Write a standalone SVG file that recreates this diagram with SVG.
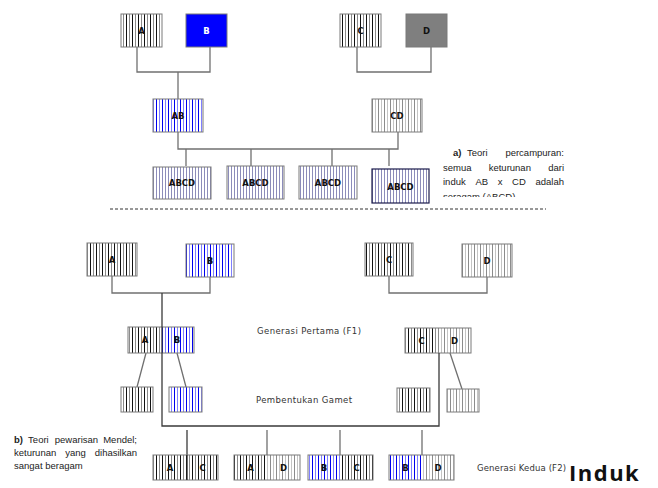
<svg xmlns="http://www.w3.org/2000/svg" width="658" height="488" viewBox="0 0 658 488">
  <defs>
    <!-- vertical hatching fills for the allele boxes -->
    <pattern id="pBlack" width="6" height="10" patternUnits="userSpaceOnUse">
      <rect width="6" height="10" fill="#ffffff"/>
      <rect x="0" width="1" height="10" fill="#111111"/>
      <rect x="3" width="1" height="10" fill="#8a8a8a"/>
    </pattern>
    <pattern id="pBlue" width="6" height="10" patternUnits="userSpaceOnUse">
      <rect width="6" height="10" fill="#ffffff"/>
      <rect x="0" width="1" height="10" fill="#0000ee"/>
      <rect x="3" width="1" height="10" fill="#7f7fff"/>
    </pattern>
    <pattern id="pGray" width="6" height="10" patternUnits="userSpaceOnUse">
      <rect width="6" height="10" fill="#ffffff"/>
      <rect x="0" width="1" height="10" fill="#8c8c8c"/>
      <rect x="3" width="1" height="10" fill="#c4c4c4"/>
    </pattern>
    <pattern id="pLav" width="3" height="10" patternUnits="userSpaceOnUse">
      <rect width="3" height="10" fill="#ffffff"/>
      <rect x="0" width="1" height="10" fill="#8c8cba"/>
    </pattern>
    <clipPath id="clipA"><rect x="430" y="140" width="150" height="57"/></clipPath>
    <clipPath id="clipB"><rect x="0" y="425" width="150" height="46"/></clipPath>
  </defs>
  <style>
    .box { stroke: #7a7a7a; stroke-width: 1; }
    .lbl { font-family: "DejaVu Sans", Verdana, sans-serif; font-weight: bold; font-size: 8.5px; fill: #111; text-anchor: middle; }
    .cap { font-family: "DejaVu Sans", Verdana, sans-serif; font-size: 8.5px; fill: #333; }
    .note { font-family: "Liberation Sans", Arial, sans-serif; font-size: 9.5px; fill: #222; }
    .note .b { font-weight: bold; }
    .conn path { fill: none; stroke: #707070; stroke-width: 1.3; }
    .conn path.dark { stroke: #3a3a3a; }
  </style>

  <!-- connectors -->
  <g id="connectors" class="conn">
    <!-- blending theory -->
    <path d="M137 47 V72 H210 V47"/>
    <path d="M178 72 V99"/>
    <path d="M357 47 V72 H431 V47"/>
    <path d="M178 132 V149 H398 V132"/>
    <path d="M186 149 V166 M251 149 V166 M332 149 V166 M389 149 V166"/>
    <!-- Mendelian inheritance -->
    <path d="M112 276 V293 H210 V277"/>
    <path d="M389 276 V293 H487 V277"/>
    <path d="M146 353 L137 387 M177 353 L186 387 M450 353 L462 389"/>
    <path d="M267 430 V455 M340 430 V455 M422 430 V455"/>
  </g>
  <line x1="110" y1="209" x2="546" y2="209" stroke="#333" stroke-width="1" stroke-dasharray="3,2"/>

  <!-- parents, blending theory -->
  <g id="pA"><rect class="box" x="121" y="14" width="41" height="33" fill="url(#pBlack)"/><text class="lbl" x="141.5" y="34">A</text></g>
  <g id="pB"><rect class="box" x="186" y="14" width="41" height="33" fill="#0000ff"/><text class="lbl" x="206.5" y="34" style="fill:#ffffff">B</text></g>
  <g id="pC"><rect class="box" x="340" y="14" width="41" height="33" fill="url(#pBlack)"/><text class="lbl" x="360.5" y="34">C</text></g>
  <g id="pD"><rect class="box" x="406" y="14" width="41" height="33" fill="#7f7f7f"/><text class="lbl" x="426.5" y="34">D</text></g>
  <g id="AB"><rect class="box" x="153" y="99" width="50" height="33" fill="url(#pBlue)"/><text class="lbl" x="178" y="119">AB</text></g>
  <g id="CD"><rect class="box" x="372" y="99" width="50" height="33" fill="url(#pGray)"/><text class="lbl" x="397" y="119">CD</text></g>
  <g id="abcd1"><rect class="box" x="153" y="167" width="58" height="32" fill="url(#pLav)"/><text class="lbl" x="182" y="186">ABCD</text></g>
  <g id="abcd2"><rect class="box" x="227" y="166" width="57" height="33" fill="url(#pLav)"/><text class="lbl" x="255.5" y="186">ABCD</text></g>
  <g id="abcd3"><rect class="box" x="299" y="166" width="58" height="33" fill="url(#pLav)"/><text class="lbl" x="328" y="186">ABCD</text></g>
  <g id="abcd4"><rect x="372" y="169" width="57" height="34" fill="url(#pLav)" stroke="#1c1c4c" stroke-width="1.2"/><text class="lbl" x="400.5" y="190">ABCD</text></g>

  <g id="noteA" class="note" clip-path="url(#clipA)">
    <text y="156"><tspan class="b" x="453">a)</tspan><tspan x="467">Teori</tspan><tspan x="564" text-anchor="end">percampuran:</tspan></text>
    <text y="171"><tspan x="443">semua</tspan><tspan x="488.7">keturunan</tspan><tspan x="564" text-anchor="end">dari</tspan></text>
    <text y="185"><tspan x="443">induk</tspan><tspan x="475.4">AB</tspan><tspan x="497.7">x</tspan><tspan x="512.1">CD</tspan><tspan x="564" text-anchor="end">adalah</tspan></text>
    <text y="200" x="443">seragam (ABCD)</text>
  </g>

  <!-- parents, Mendelian inheritance -->
  <g id="mA"><rect class="box" x="87" y="243" width="50" height="33" fill="url(#pBlack)"/><text class="lbl" x="112" y="263">A</text></g>
  <g id="mB"><rect class="box" x="186" y="244" width="48" height="33" fill="url(#pBlue)"/><text class="lbl" x="210" y="264">B</text></g>
  <g id="mC"><rect class="box" x="365" y="243" width="48" height="33" fill="url(#pBlack)"/><text class="lbl" x="389" y="263">C</text></g>
  <g id="mD"><rect class="box" x="462" y="244" width="50" height="33" fill="url(#pGray)"/><text class="lbl" x="487" y="264">D</text></g>

  <!-- first generation -->
  <g id="f1AB">
    <rect x="128" y="327" width="34" height="26" fill="url(#pBlack)"/>
    <rect x="162" y="327" width="32" height="26" fill="url(#pBlue)"/>
    <rect class="box" x="128" y="327" width="66" height="26" fill="none"/>
    <text class="lbl" x="145" y="343">A</text><text class="lbl" x="177" y="343">B</text>
  </g>
  <g id="f1CD">
    <rect x="405" y="328" width="33" height="25" fill="url(#pBlack)"/>
    <rect x="438" y="328" width="33" height="25" fill="url(#pGray)"/>
    <rect class="box" x="405" y="328" width="66" height="25" fill="none"/>
    <text class="lbl" x="421.5" y="344">C</text><text class="lbl" x="454.5" y="344">D</text>
  </g>

  <!-- gametes -->
  <g id="gA"><rect class="box" x="121" y="387" width="32" height="25" fill="url(#pBlack)"/></g>
  <g id="gB"><rect class="box" x="169" y="387" width="33" height="25" fill="url(#pBlue)"/></g>
  <g id="gC"><rect class="box" x="397" y="388" width="33" height="24" fill="url(#pBlack)"/></g>
  <g id="gD"><rect class="box" x="447" y="389" width="32" height="23" fill="url(#pGray)"/></g>

  <!-- gamete combination bus -->
  <g id="bus" class="conn">
    <path class="dark" d="M162 293 V426 H439 V353"/>
    <path class="dark" d="M187 430 V480"/>
  </g>

  <!-- second generation -->
  <g id="f2AC">
    <rect x="153" y="455" width="34" height="25" fill="url(#pBlack)"/>
    <rect x="187" y="455" width="31" height="25" fill="url(#pBlack)"/>
    <rect class="box" x="153" y="455" width="65" height="25" fill="none"/>
    <line x1="187" y1="455" x2="187" y2="480" stroke="#222" stroke-width="1.3"/>
    <text class="lbl" x="170" y="471">A</text><text class="lbl" x="202.5" y="471">C</text>
  </g>
  <g id="f2AD">
    <rect x="234" y="455" width="33" height="25" fill="url(#pBlack)"/>
    <rect x="267" y="455" width="33" height="25" fill="url(#pGray)"/>
    <rect class="box" x="234" y="455" width="66" height="25" fill="none"/>
    <text class="lbl" x="250.5" y="471">A</text><text class="lbl" x="283.5" y="471">D</text>
  </g>
  <g id="f2BC">
    <rect x="308" y="455" width="32" height="25" fill="url(#pBlue)"/>
    <rect x="340" y="455" width="33" height="25" fill="url(#pBlack)"/>
    <rect class="box" x="308" y="455" width="65" height="25" fill="none"/>
    <text class="lbl" x="324" y="471">B</text><text class="lbl" x="356.5" y="471">C</text>
  </g>
  <g id="f2BD">
    <rect x="389" y="455" width="33" height="25" fill="url(#pBlue)"/>
    <rect x="422" y="455" width="32" height="25" fill="url(#pGray)"/>
    <rect class="box" x="389" y="455" width="65" height="25" fill="none"/>
    <text class="lbl" x="405.5" y="471">B</text><text class="lbl" x="438" y="471">D</text>
  </g>

  <!-- captions -->
  <text class="cap" x="257" y="334" textLength="104" lengthAdjust="spacing">Generasi Pertama (F1)</text>
  <text class="cap" x="256" y="403" textLength="96" lengthAdjust="spacing">Pembentukan Gamet</text>
  <text class="cap" x="477" y="471" textLength="89" lengthAdjust="spacing">Generasi Kedua (F2)</text>

  <g id="noteB" class="note" clip-path="url(#clipB)">
    <text y="443"><tspan class="b" x="14">b)</tspan><tspan x="28.1">Teori</tspan><tspan x="54.8">pewarisan</tspan><tspan x="137" text-anchor="end">Mendel;</tspan></text>
    <text y="456"><tspan x="14">keturunan</tspan><tspan x="65.3">yang</tspan><tspan x="137" text-anchor="end">dihasilkan</tspan></text>
    <text y="469" x="14">sangat beragam</text>
  </g>

  <text x="569" y="481" font-family="'Open Sans', 'DejaVu Sans', sans-serif" font-weight="bold" font-size="22" fill="#111" letter-spacing="1.5">Induk</text>
</svg>
